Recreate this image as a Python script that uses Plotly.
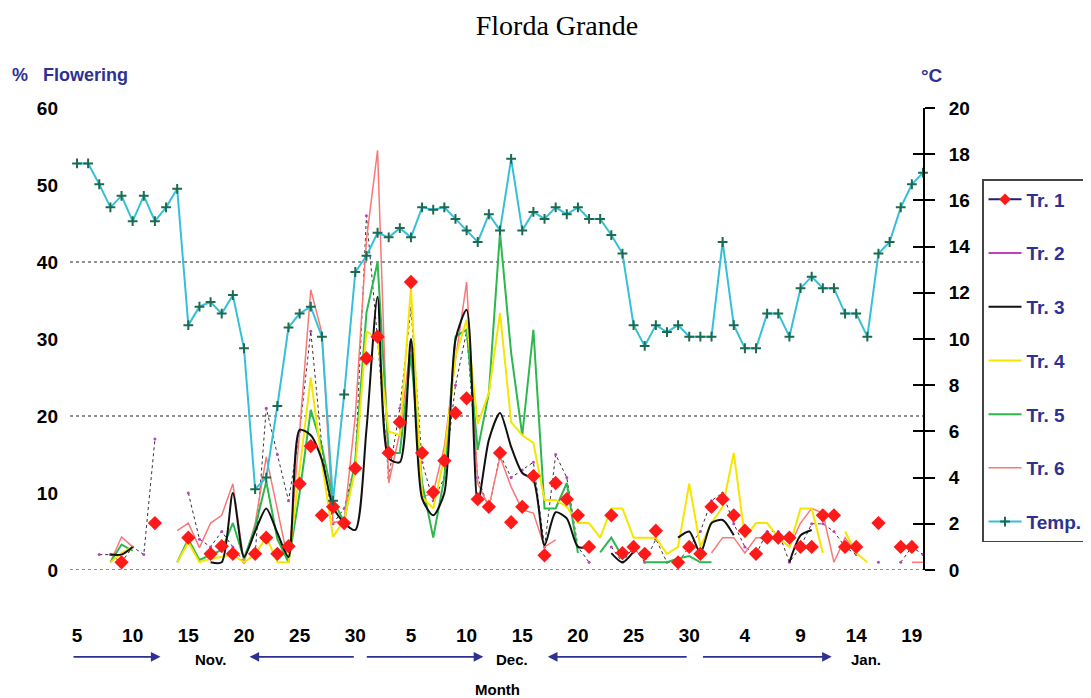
import plotly.graph_objects as go

N = None

# day index 0 = Nov 5, 76 = Jan 20
days = list(range(77))

temp = [17.6, 17.6, 16.7, 15.7, 16.2, 15.1, 16.2, 15.1, 15.7, 16.5,
        10.6, 11.4, 11.6, 11.1, 11.9, 9.6, 3.5, 4.0, 7.1, 10.5,
        11.1, 11.4, 10.1, 3.0, 7.6, 12.9, 13.6, 14.6, 14.4, 14.8,
        14.4, 15.7, 15.6, 15.7, 15.2, 14.7, 14.2, 15.4, 14.7, 17.8,
        14.7, 15.5, 15.2, 15.7, 15.4, 15.7, 15.2, 15.2, 14.5, 13.7,
        10.6, 9.7, 10.6, 10.3, 10.6, 10.1, 10.1, 10.1, 14.2, 10.6,
        9.6, 9.6, 11.1, 11.1, 10.1, 12.2, 12.7, 12.2, 12.2, 11.1,
        11.1, 10.1, 13.7, 14.2, 15.7, 16.7, 17.2]

tr1 = [N, N, N, N, 1.0, N, N, 6.1, N, N,
       4.2, N, 2.1, 3.1, 2.1, N, 2.1, 4.2, 2.1, 3.1,
       11.2, 16.1, 7.1, 8.2, 6.1, 13.2, 27.5, 30.3, 15.2, 19.2,
       37.4, 15.2, 10.1, 14.2, 20.4, 22.3, 9.2, 8.2, 15.2, 6.2,
       8.2, 12.2, 1.9, 11.3, 9.2, 7.1, 3.0, N, 7.1, 2.2,
       3.0, 2.1, 5.1, N, 1.0, 3.0, 2.1, 8.2, 9.2, 7.1,
       5.1, 2.1, 4.2, 4.2, 4.2, 3.0, 3.0, 7.1, 7.1, 3.0,
       3.0, N, 6.1, N, 3.0, 3.0, N]

tr2 = [N, N, 2, 2, 1, 3, 2, 17, N, N,
       10, 4, 3, 5, 3, 1, 2, 21, 15, 9,
       18, 31, 16, 6, 8, 14, 46, 30, 12, 21,
       34, 14, 9, 12, 24, 31, 12, 8, 15, 12,
       13, 14, 3, 15, 12, 3, 1, N, 3, 1,
       3, 1, 4, 1, 1, 3, 5, 9, 10, 6,
       3, 2, 5, 5, 1, 3, 6, 6, 5, 3,
       2, N, 1, N, 1, 3, 2]

tr3 = [N, N, N, 2, 2, 3, N, N, N, N,
       N, N, 1, 1, 10, 1.7, 5, 8, 4.8, 1.7,
       18.2, 17.5, 14.3, 8.2, 6.1, 5.2, 18.2, 35.5, 14.5, 14,
       30, 9.3, 7.1, 10, 29.9, 33.8, 8.7, 16.9, 20.4, 16,
       12.6, 11.7, 3.2, 7.5, 6.7, 3.0, 3.0, N, 2.2, 1,
       2.4, N, N, N, 4.2, 5, 2.2, 6.1, 6.5, 4.5,
       N, N, N, N, 1, 4.5, 5.2, N, N, N,
       N, N, N, N, N, N, N]

tr4 = [N, N, N, 1, 2.2, 3, N, N, N, 1,
       3.6, 1, 1.5, 1.7, 2, 1, 2, 4.3, 1, 1,
       13, 25, 14, 4.3, 6.5, 13, 31, 30, 18, 17.5,
       36.7, 9.5, 8, 14.7, 27.7, 32.5, 19, 23, 33.4, 19.2,
       17.5, 16.5, 9.1, 9.1, 8.2, 6.1, 6.1, 4.2, 8, 8,
       4.2, 4.2, 4.2, 2.1, 3, 11.2, 3, 6.1, 8.2, 15.2,
       4.2, 6.1, 6.1, 4.2, 3, 8, 8, 2.2, N, 5,
       2.2, 1, N, N, N, N, N]

tr5 = [N, N, N, 1, 3.3, 2.5, N, N, N, 1,
       4, 1.3, 2, 2.6, 6.1, 1.5, 5.5, 11.5, 4, 1,
       10, 20.8, 16, 9.1, 6.2, 14.3, 33.4, 40, 15.2, 15.2,
       28, 11.3, 4.2, 12, 30.3, 31.2, 15.6, 23, 43.8, 28.2,
       17.5, 31.2, 8, 8, 11.3, 2.2, N, 2.3, 4.2, 1.7,
       N, 1, 1, 1, 1.5, 1.8, 1, 1, N, N,
       N, N, N, N, N, N, N, N, N, N,
       N, N, N, N, N, N, N]

tr6 = [N, N, N, 1, 4.3, 3, N, N, N, 5.1,
       6.1, 2.9, 6.1, 7.1, 11.2, 1, 6, 14.7, 8, 1,
       18, 36.4, 30.8, 6.1, 6.5, 20, 42.9, 54.5, 11.3, 17.8,
       29.5, 9.5, 10, 16, 27.3, 37.4, 11.3, 8.2, 14.7, 10.8,
       7.8, 7.4, 3, 3.9, N, N, N, N, N, N,
       N, N, N, N, N, N, N, 2.2, 4.2, 4.2,
       2.2, 4.2, 4.2, 4.2, 3, 6.1, 8, 7.4, 1, 4.2,
       2.2, N, N, N, N, 1, 1]

tick_days = [0, 5, 10, 15, 20, 25, 30, 35, 40, 45, 50, 55, 60, 65, 70, 75]
tick_text = ["5", "10", "15", "20", "25", "30", "5", "10", "15", "20", "25", "30",
             "4", "9", "14", "19"]

# month arrows: (tail day, head day) and month labels
arrows = [(-0.45, 7.5), (25.0, 15.5), (25.9, 36.5), (54.9, 42.3), (56.1, 67.8)]
months = [("Nov.", 12.0), ("Dec.", 39.1), ("Jan.", 70.9)]

NAVY = "#2e3192"
FONT = "Liberation Sans"

fig = go.Figure()

# plotted series
fig.add_trace(go.Scatter(x=days, y=tr2, mode="lines+markers", showlegend=False,
                         line=dict(color="#333333", width=1, dash="dot"),
                         marker=dict(color="#c040c0", size=3), cliponaxis=False))
fig.add_trace(go.Scatter(x=days, y=tr6, mode="lines", name="Tr. 6", legendrank=6, legendgroup="6",
                         line=dict(color="#f87878", width=1.5)))
fig.add_trace(go.Scatter(x=days, y=tr5, mode="lines", name="Tr. 5", legendrank=5, legendgroup="5",
                         line=dict(color="#2db84d", width=2)))
fig.add_trace(go.Scatter(x=days, y=tr4, mode="lines", name="Tr. 4", legendrank=4, legendgroup="4",
                         line=dict(color="#f5e600", width=2)))
fig.add_trace(go.Scatter(x=days, y=tr3, mode="lines", name="Tr. 3", legendrank=3, legendgroup="3",
                         line=dict(color="#111111", width=2, shape="spline", smoothing=0.7)))
fig.add_trace(go.Scatter(x=days, y=tr1, mode="markers", showlegend=False,
                         marker=dict(symbol="diamond", color="#ff1a1a", size=11), cliponaxis=False))
fig.add_trace(go.Scatter(x=days, y=temp, mode="lines+markers", name="Temp.", yaxis="y2",
                         legendrank=7, legendgroup="7",
                         line=dict(color="#36c0d8", width=2),
                         marker=dict(symbol="cross-thin", size=7, line=dict(color="#1a6b4f", width=2)),
                         cliponaxis=False))

# legend-only entries
fig.add_trace(go.Scatter(x=[None], y=[None], mode="lines+markers", name="Tr. 1", legendrank=1,
                         legendgroup="1", line=dict(color="#1f1f7a", width=2),
                         marker=dict(symbol="diamond", color="#ff1a1a", size=9)))
fig.add_trace(go.Scatter(x=[None], y=[None], mode="lines", name="Tr. 2", legendrank=2,
                         legendgroup="2", line=dict(color="#c040c0", width=2)))

# dummy trace on inner tick axis
fig.add_trace(go.Scatter(x=[None], y=[None], yaxis="y3", showlegend=False))

for v in [0, 20, 40]:
    fig.add_shape(type="line", xref="paper", x0=0, x1=1, yref="y", y0=v, y1=v,
                  line=dict(color="#222222", width=1.2, dash="dot"), layer="below")

for tail, head in arrows:
    fig.add_annotation(x=head, y=-0.188, xref="x", yref="paper", ax=tail, ay=0,
                       axref="x", ayref="pixel", text="", showarrow=True,
                       arrowhead=2, arrowsize=1.2, arrowwidth=1.6, arrowcolor=NAVY)
for label, d in months:
    fig.add_annotation(x=d, y=-0.193, xref="x", yref="paper", text=label, showarrow=False,
                       yanchor="middle",
                       font=dict(family=FONT, size=15, color="black", weight="bold"))

fig.add_annotation(x=0.5017, y=-0.258, xref="paper", yref="paper", text="Month", showarrow=False,
                   yanchor="middle", xanchor="center",
                   font=dict(family=FONT, size=15, color="black", weight="bold"))
fig.add_annotation(x=-0.0703, y=1.0714, xref="paper", yref="paper",
                   text="%\u00a0\u00a0\u00a0Flowering",
                   showarrow=False, xanchor="left", yanchor="middle",
                   font=dict(family=FONT, size=18, color=NAVY, weight="bold"))
fig.add_annotation(x=1.0106, y=1.0714, xref="paper", yref="paper", text="°C",
                   showarrow=False, xanchor="center", yanchor="middle",
                   font=dict(family=FONT, size=19, color=NAVY, weight="bold"))

# page body adds 8px offset, so figure is drawn 8px smaller and shifted
fig.update_layout(
    width=1083, height=690,
    margin=dict(l=62, r=168, t=100, b=128, autoexpand=False),
    plot_bgcolor="white", paper_bgcolor="white",
    title=dict(text="Florda Grande", x=0.5069, xref="container", xanchor="center",
               y=0.9754, yref="container", yanchor="middle",
               font=dict(family="Liberation Serif", size=28, color="black")),
    xaxis=dict(range=[-0.63, 76], tickvals=tick_days, ticktext=tick_text, showgrid=False,
               zeroline=False, showline=False, ticks="", ticklabelstandoff=52,
               tickfont=dict(family=FONT, size=19, color="black", weight="bold")),
    yaxis=dict(range=[0, 60], dtick=10, showgrid=False, zeroline=False, showline=False,
               ticks="", ticklabelstandoff=11,
               tickfont=dict(family=FONT, size=19, color="black", weight="bold")),
    yaxis2=dict(range=[0, 20], dtick=2, overlaying="y", side="right", showgrid=False,
                zeroline=False, showline=True, linecolor="black", linewidth=2,
                ticks="outside", ticklen=10, tickwidth=2, tickcolor="black",
                ticklabelstandoff=10,
                tickfont=dict(family=FONT, size=19, color="black", weight="bold")),
    yaxis3=dict(range=[0, 20], dtick=2, overlaying="y", side="right", showgrid=False,
                zeroline=False, showline=False, showticklabels=False,
                ticks="inside", ticklen=10, tickwidth=2, tickcolor="black"),
    legend=dict(x=1.0692, y=0.8463, xanchor="left", yanchor="top",
                bordercolor="#444444", borderwidth=1.5, bgcolor="white",
                tracegroupgap=26, itemwidth=33,
                font=dict(family=FONT, size=19, color=NAVY, weight="bold")),
)

fig.write_html("out.html")
